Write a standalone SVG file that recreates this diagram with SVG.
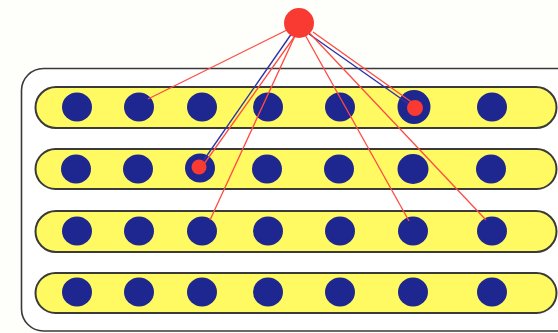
<svg xmlns="http://www.w3.org/2000/svg" width="558" height="333" viewBox="0 0 558 333">
<style>
.frame{fill:#ffffff;stroke:#3a3a3a;stroke-width:1.6}
.lane{fill:#fff962;stroke:#3a3a3a;stroke-width:2}
.dot{fill:#1e268f}
.hit{fill:#f83a32}
.r{stroke:#ff4a44;stroke-width:1.3;fill:none}
.b{stroke:#2c33a6;stroke-width:1.4;fill:none}
</style>
<rect width="558" height="333" fill="#fefefb"/>
<rect id="frame" class="frame" x="21.5" y="68.5" width="560" height="262.5" rx="22" ry="22"/>
<g id="lane1">
<rect class="lane" x="35.5" y="87" width="521" height="41" rx="20.5" ry="20.5"/>
<ellipse class="dot" cx="77" cy="107" rx="15" ry="14.5"/>
<ellipse class="dot" cx="139" cy="107" rx="15" ry="14.5"/>
<ellipse class="dot" cx="202" cy="107" rx="15" ry="14.5"/>
<ellipse class="dot" cx="268" cy="107" rx="15" ry="14.5"/>
<ellipse class="dot" cx="340" cy="107" rx="15" ry="14.5"/>
<ellipse class="dot" cx="414" cy="107" rx="16.5" ry="17"/>
<ellipse class="dot" cx="492" cy="107" rx="15" ry="14.5"/>
</g>
<g id="lane2">
<rect class="lane" x="35.5" y="149" width="521" height="40" rx="20" ry="20"/>
<ellipse class="dot" cx="76" cy="169" rx="15" ry="14.5"/>
<ellipse class="dot" cx="138" cy="169" rx="15" ry="14.5"/>
<ellipse class="dot" cx="200" cy="168" rx="15" ry="14.5"/>
<ellipse class="dot" cx="267" cy="169" rx="15" ry="14.5"/>
<ellipse class="dot" cx="339" cy="169" rx="15" ry="14.5"/>
<ellipse class="dot" cx="413" cy="169" rx="15.5" ry="15"/>
<ellipse class="dot" cx="491" cy="169" rx="15" ry="14.5"/>
</g>
<g id="lane3">
<rect class="lane" x="35.5" y="211" width="521" height="41" rx="20.5" ry="20.5"/>
<ellipse class="dot" cx="77" cy="231" rx="15" ry="14.5"/>
<ellipse class="dot" cx="139" cy="231" rx="15" ry="14.5"/>
<ellipse class="dot" cx="202" cy="231" rx="15" ry="14.5"/>
<ellipse class="dot" cx="268" cy="231" rx="15" ry="14.5"/>
<ellipse class="dot" cx="340" cy="231" rx="15" ry="14.5"/>
<ellipse class="dot" cx="413" cy="231" rx="15" ry="14.5"/>
<ellipse class="dot" cx="492" cy="231" rx="15" ry="14.5"/>
</g>
<g id="lane4">
<rect class="lane" x="35.5" y="273" width="521" height="40" rx="20" ry="20"/>
<ellipse class="dot" cx="77" cy="292" rx="15" ry="14.5"/>
<ellipse class="dot" cx="139" cy="292" rx="15" ry="14.5"/>
<ellipse class="dot" cx="202" cy="292" rx="15" ry="14.5"/>
<ellipse class="dot" cx="268" cy="292" rx="15" ry="14.5"/>
<ellipse class="dot" cx="340" cy="292" rx="15" ry="14.5"/>
<ellipse class="dot" cx="413" cy="292" rx="15" ry="14.5"/>
<ellipse class="dot" cx="492" cy="292" rx="15" ry="14.5"/>
</g>
<g id="connectors">
<line class="r" x1="299" y1="24" x2="148" y2="99"/>
<line class="b" x1="292" y1="33" x2="199" y2="167"/>
<line class="r" x1="297" y1="33" x2="204" y2="164"/>
<line class="r" x1="300" y1="25" x2="210" y2="220"/>
<line class="b" x1="309" y1="34" x2="413" y2="107"/>
<line class="r" x1="313" y1="32" x2="417" y2="106"/>
<line class="r" x1="299" y1="24" x2="409" y2="221"/>
<line class="r" x1="300" y1="23" x2="486" y2="220"/>
</g>
<g id="source">
<circle class="hit" cx="299" cy="23" r="15"/>
</g>
<g id="hit1">
<circle class="hit" cx="415" cy="108" r="8"/>
</g>
<g id="hit2">
<circle class="hit" cx="199" cy="167" r="7.5"/>
</g>
</svg>
